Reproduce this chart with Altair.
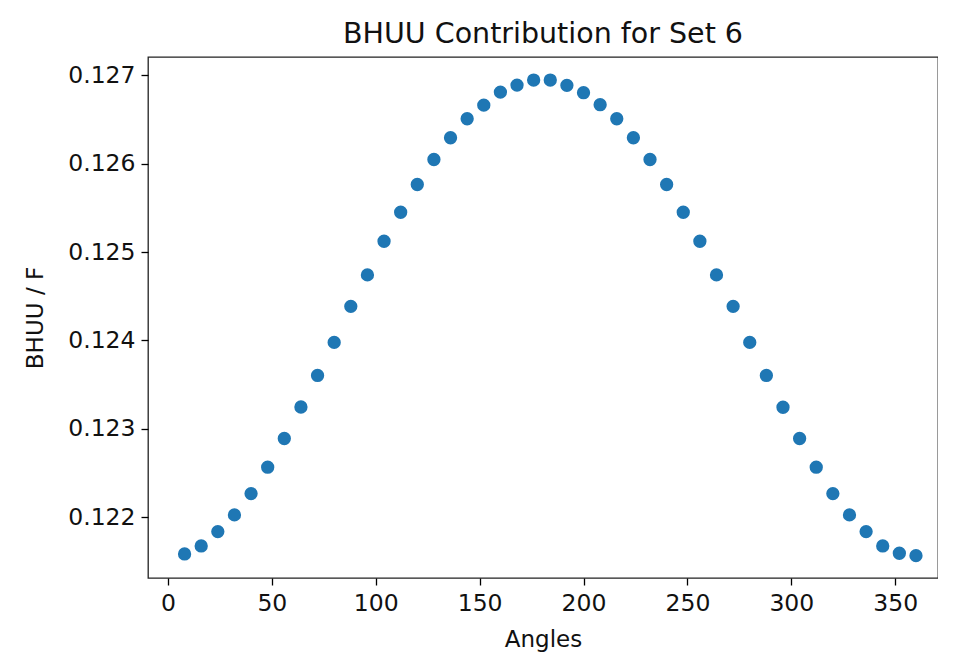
import altair as alt
import pandas as pd

# Angles (degrees) and BHUU / F values
angles = [8, 16, 24, 32, 40, 48, 56, 64, 72, 80, 88, 96, 104, 112, 120,
          128, 136, 144, 152, 160, 168, 176, 184, 192, 200, 208, 216, 224,
          232, 240, 248, 256, 264, 272, 280, 288, 296, 304, 312, 320, 328,
          336, 344, 352, 360]
bhuu = [0.121584, 0.121675, 0.121837, 0.122026, 0.122267, 0.122566, 0.122891,
        0.123247, 0.123604, 0.123978, 0.124386, 0.124742, 0.125123, 0.125451,
        0.125765, 0.126048, 0.126294, 0.126509, 0.126663, 0.126811, 0.126890,
        0.126947, 0.126947, 0.126887, 0.126804, 0.126668, 0.126509, 0.126294,
        0.126048, 0.125765, 0.125451, 0.125123, 0.124742, 0.124386, 0.123978,
        0.123604, 0.123244, 0.122891, 0.122566, 0.122267, 0.122026, 0.121837,
        0.121675, 0.121592, 0.121565]

x_ticks = [0, 50, 100, 150, 200, 250, 300, 350]
y_ticks = [0.122, 0.123, 0.124, 0.125, 0.126, 0.127]

df = pd.DataFrame({"angle": angles, "value": bhuu})

FONT = "DejaVu Sans"

chart = alt.Chart(df).mark_circle(size=177, color="#1f77b4", opacity=1).encode(
    x=alt.X("angle:Q",
            scale=alt.Scale(domain=[-9.6, 370.6], nice=False, zero=False),
            axis=alt.Axis(values=x_ticks, title="Angles", grid=False, domain=False,
                          tickSize=7, tickWidth=1.3, tickColor="#000",
                          labelFontSize=23.5, labelColor="#111", labelPadding=6,
                          titleFontSize=23, titleFontWeight="normal", titleColor="#111",
                          titlePadding=14, labelFont=FONT, titleFont=FONT)),
    y=alt.Y("value:Q",
            scale=alt.Scale(domain=[0.121312, 0.127208], nice=False, zero=False),
            axis=alt.Axis(values=y_ticks, format=".3f", title="BHUU / F", grid=False,
                          domain=False, tickSize=7, tickWidth=1.3, tickColor="#000",
                          labelFontSize=23.5, labelColor="#111", labelPadding=6,
                          titleFontSize=23, titleFontWeight="normal", titleColor="#111",
                          titlePadding=20, labelFont=FONT, titleFont=FONT)),
).properties(
    width=790,
    height=521,
    title=alt.TitleParams("BHUU Contribution for Set 6", fontSize=28.5,
                          fontWeight="normal", font=FONT, color="#111", offset=9),
    autosize=alt.AutoSizeParams(type="none"),
    padding={"left": 140, "top": 49, "right": 0, "bottom": 80},
).configure_view(
    stroke="#222", strokeWidth=1.3
)

chart.save("out.html", embed_options={"renderer": "svg", "actions": False})
